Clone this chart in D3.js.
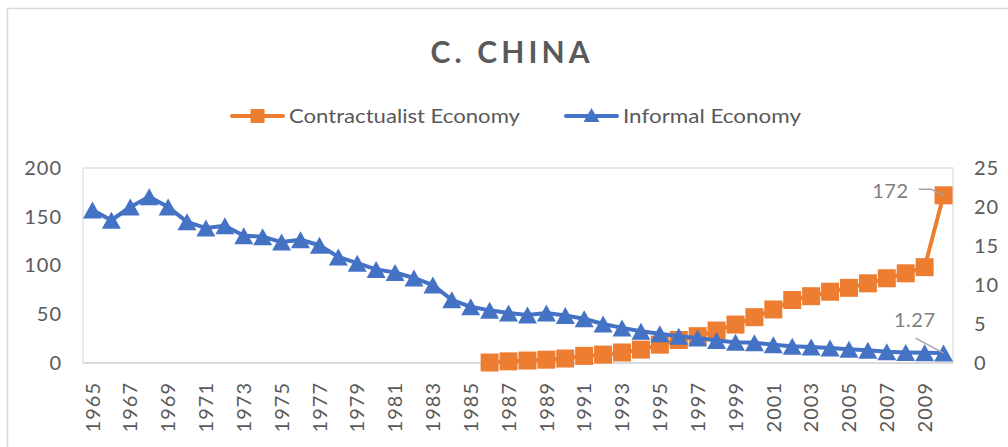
<!DOCTYPE html>
<html>
<head>
<meta charset="utf-8">
<script src="https://cdn.jsdelivr.net/npm/d3@7"></script>
<style>
  html, body { margin: 0; padding: 0; background: #fff; }
  svg { display: block; font-family: Lato, "Open Sans", sans-serif; }
</style>
</head>
<body>
<svg id="chart" width="1008" height="447"></svg>
<script>
// Categories (years)
const years = [1965, 1966, 1967, 1968, 1969, 1970, 1971, 1972, 1973, 1974, 1975, 1976,
  1977, 1978, 1979, 1980, 1981, 1982, 1983, 1984, 1985, 1986, 1987, 1988,
  1989, 1990, 1991, 1992, 1993, 1994, 1995, 1996, 1997, 1998, 1999, 2000,
  2001, 2002, 2003, 2004, 2005, 2006, 2007, 2008, 2009, 2010];

// Contractualist economy (left axis); no data before 1986
const contractualist = [null, null, null, null, null, null, null, null, null, null, null, null,
  null, null, null, null, null, null, null, null, null, 0.5, 1.7, 2.5,
  3.4, 4.6, 7.3, 8.6, 10.8, 13.7, 18.8, 23.6, 27.5, 33.3, 39.4, 47,
  54.9, 64.6, 68.5, 73.1, 77.1, 81.7, 86.9, 92, 98.3, 172];

// Informal economy (right axis)
const informal = [19.6, 18.3, 20.0, 21.3, 20.0, 18.1, 17.3, 17.6, 16.3, 16.2, 15.5, 15.8,
  15.1, 13.6, 12.8, 12.0, 11.6, 10.9, 10.0, 8.1, 7.2, 6.75, 6.4, 6.15,
  6.4, 6.1, 5.67, 5.0, 4.5, 4.06, 3.76, 3.44, 3.2, 2.88, 2.65, 2.59,
  2.35, 2.15, 2.05, 1.92, 1.75, 1.62, 1.45, 1.36, 1.3, 1.27];

// Axis ticks
const leftTicks = [0, 50, 100, 150, 200];
const rightTicks = [0, 5, 10, 15, 20, 25];
const yearTicks = [1965, 1967, 1969, 1971, 1973, 1975, 1977, 1979, 1981, 1983, 1985, 1987,
  1989, 1991, 1993, 1995, 1997, 1999, 2001, 2003, 2005, 2007, 2009];

const seriesNames = ["Contractualist Economy", "Informal Economy"];
const titleText = "C. CHINA";

const ORANGE = "#ED7D31", BLUE = "#4472C4", TEXT = "#595959", LABEL = "#7F7F7F";

const svg = d3.select("#chart");
const plot = { left: 83, right: 953, top: 168, bottom: 363 };

// Outer chart border
svg.append("rect").attr("x", 7.5).attr("y", 8.5).attr("width", 1100).attr("height", 500)
  .attr("fill", "#fff").attr("stroke", "#d9d9d9").attr("stroke-width", 1.5);

const x = d3.scaleBand().domain(years).range([plot.left, plot.right]);
const cx = d => x(d) + x.bandwidth() / 2;
const yL = d3.scaleLinear().domain([0, 200]).range([plot.bottom, plot.top]);
const yR = d3.scaleLinear().domain([0, 25]).range([plot.bottom, plot.top]);

// Plot area frame
svg.append("rect").attr("x", plot.left).attr("y", plot.top)
  .attr("width", plot.right - plot.left).attr("height", plot.bottom - plot.top)
  .attr("fill", "none").attr("stroke", "#e3e3e3").attr("stroke-width", 1.5);
svg.append("line").attr("x1", plot.left).attr("x2", plot.right)
  .attr("y1", plot.bottom).attr("y2", plot.bottom)
  .attr("stroke", "#d9d9d9").attr("stroke-width", 2);

// Title
svg.append("text").attr("x", 510).attr("y", 63).attr("text-anchor", "middle")
  .attr("font-size", 30).attr("font-weight", 700).attr("fill", TEXT)
  .attr("textLength", 159).attr("lengthAdjust", "spacing")
  .text(titleText);

// Axes
const tickFont = g => g.selectAll("text").attr("font-size", 20).attr("fill", TEXT)
  .attr("font-family", "Lato, 'Open Sans', sans-serif").attr("letter-spacing", 1);

svg.append("g").attr("transform", `translate(${plot.left},0)`)
  .call(d3.axisLeft(yL).tickValues(leftTicks).tickSize(0).tickPadding(21))
  .call(g => g.select(".domain").remove())
  .call(tickFont);

svg.append("g").attr("transform", `translate(${plot.right},0)`)
  .call(d3.axisRight(yR).tickValues(rightTicks).tickSize(0).tickPadding(21))
  .call(g => g.select(".domain").remove())
  .call(tickFont);

svg.append("g").attr("transform", `translate(0,${plot.bottom})`)
  .call(d3.axisBottom(x).tickValues(yearTicks).tickSize(0))
  .call(g => g.select(".domain").remove())
  .call(tickFont)
  .call(g => g.selectAll("text")
    .attr("transform", "rotate(-90)")
    .attr("text-anchor", "end")
    .attr("x", -19).attr("y", 0).attr("dy", "0.36em"));

// Series lines
const lineL = d3.line().defined(d => d[1] != null).x(d => cx(d[0])).y(d => yL(d[1]));
const lineR = d3.line().x(d => cx(d[0])).y(d => yR(d[1]));
const cData = years.map((yr, i) => [yr, contractualist[i]]);
const iData = years.map((yr, i) => [yr, informal[i]]);

const triPath = (w, h) => `M0,${-h / 2}L${w / 2},${h / 2}L${-w / 2},${h / 2}Z`;

svg.append("path").datum(cData).attr("d", lineL)
  .attr("fill", "none").attr("stroke", ORANGE).attr("stroke-width", 4)
  .attr("stroke-linejoin", "round");
svg.append("g").selectAll("rect").data(cData.filter(d => d[1] != null)).join("rect")
  .attr("x", d => cx(d[0]) - 9).attr("y", d => yL(d[1]) - 9)
  .attr("width", 18).attr("height", 18).attr("fill", ORANGE);

svg.append("path").datum(iData).attr("d", lineR)
  .attr("fill", "none").attr("stroke", BLUE).attr("stroke-width", 4)
  .attr("stroke-linejoin", "round");
svg.append("g").selectAll("path").data(iData).join("path")
  .attr("transform", d => `translate(${cx(d[0])},${yR(d[1])})`)
  .attr("d", triPath(19, 17)).attr("fill", BLUE);

// Data labels on the last points, with leader lines
const last = years.length - 1;
const pC = [cx(years[last]), yL(contractualist[last])];
const pI = [cx(years[last]), yR(informal[last])];

svg.append("polyline")
  .attr("points", [[pC[0] - 25, pC[1] - 6], [pC[0] - 12, pC[1] - 6], [pC[0], pC[1]]].join(" "))
  .attr("fill", "none").attr("stroke", "#a6a6a6").attr("stroke-width", 1.5);
svg.append("text").attr("x", pC[0] - 35).attr("y", pC[1] - 4).attr("dy", "0.35em")
  .attr("text-anchor", "end").attr("font-size", 20).attr("fill", LABEL)
  .attr("letter-spacing", 0.5).text(d3.format("d")(contractualist[last]));

svg.append("line")
  .attr("x1", pI[0] - 28).attr("y1", pI[1] - 15).attr("x2", pI[0]).attr("y2", pI[1])
  .attr("stroke", "#a6a6a6").attr("stroke-width", 1.5);
svg.append("text").attr("x", pI[0] - 8).attr("y", pI[1] - 33).attr("dy", "0.35em")
  .attr("text-anchor", "end").attr("font-size", 20).attr("fill", LABEL)
  .attr("letter-spacing", 0.5).text(d3.format(".2f")(informal[last]));

// Legend
const legend = [
  { name: seriesNames[0], color: ORANGE, x: 232, width: 231, shape: "square" },
  { name: seriesNames[1], color: BLUE, x: 566, width: 178, shape: "triangle" }
];
const lg = svg.append("g").selectAll("g").data(legend).join("g")
  .attr("transform", d => `translate(${d.x},116)`);
lg.append("line").attr("x1", 0).attr("x2", 51).attr("stroke", d => d.color)
  .attr("stroke-width", 4).attr("stroke-linecap", "round");
lg.filter(d => d.shape === "square").append("rect")
  .attr("x", 18.5).attr("y", -7).attr("width", 14).attr("height", 14).attr("fill", d => d.color);
lg.filter(d => d.shape === "triangle").append("path")
  .attr("transform", "translate(25.5,-1)").attr("d", triPath(16, 14)).attr("fill", d => d.color);
lg.append("text").attr("x", 57).attr("dy", "0.35em").attr("font-size", 20).attr("fill", TEXT)
  .attr("textLength", d => d.width).attr("lengthAdjust", "spacingAndGlyphs")
  .text(d => d.name);
</script>
</body>
</html>
